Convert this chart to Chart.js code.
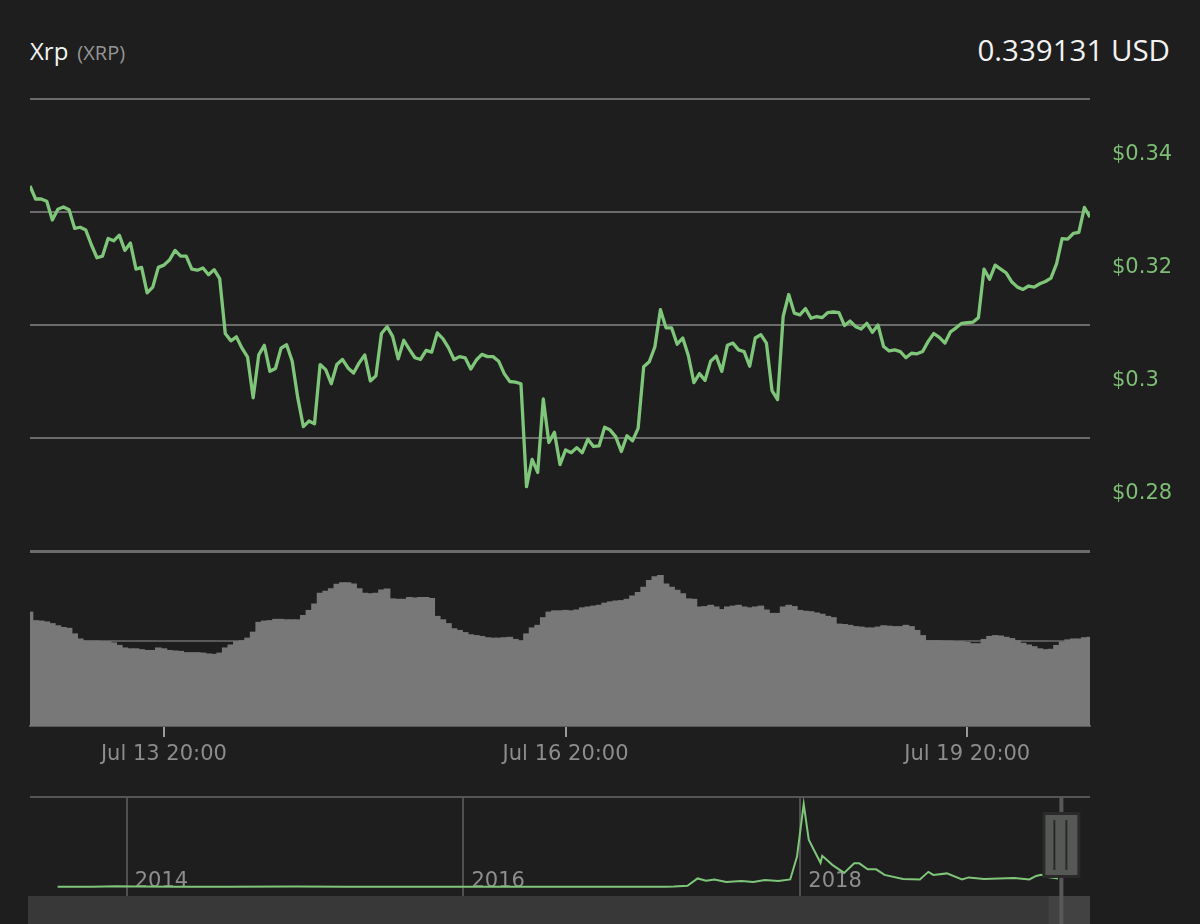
<!DOCTYPE html>
<html>
<head>
<meta charset="utf-8">
<title>Xrp (XRP)</title>
<script src="https://cdn.jsdelivr.net/npm/chart.js@4.4.1/dist/chart.umd.min.js"></script>
<style>
  html, body { margin: 0; padding: 0; }
  body { width: 1200px; height: 924px; background: #1e1e1e; position: relative; overflow: hidden; font-family: "Open Sans", sans-serif; }
  canvas { position: absolute; left: 0; }
  #title { position: absolute; left: 30px; top: 39px; line-height: 1; color: #f2f2f2; font-size: 24px; white-space: nowrap; }
  #title span { color: #959595; font-size: 20px; margin-left: 9px; }
  #last { position: absolute; right: 30px; top: 35px; line-height: 1; color: #f2f2f2; font-size: 29.5px; white-space: nowrap; }
</style>
</head>
<body>
<div id="title">Xrp<span>(XRP)</span></div>
<div id="last">0.339131 USD</div>
<canvas id="priceChart" width="1200" height="560" style="top:0"></canvas>
<canvas id="volumeChart" width="1200" height="240" style="top:540px"></canvas>
<canvas id="navChart" width="1200" height="144" style="top:780px"></canvas>
<script>
// hourly prices, hour 0 = Jul 12 20:00
const priceValues = [
	0.3446, 0.3423, 0.3423, 0.3419, 0.3386, 0.3405, 0.3409, 0.3404, 0.3371, 0.3373,
	0.3368, 0.3342, 0.3319, 0.3322, 0.3353, 0.3349, 0.3359, 0.3332, 0.3345, 0.3299,
	0.3302, 0.3257, 0.3267, 0.3302, 0.3306, 0.3315, 0.3332, 0.3322, 0.3322, 0.3299,
	0.3297, 0.3301, 0.3289, 0.3298, 0.3282, 0.3185, 0.3172, 0.3179, 0.3159, 0.3143,
	0.3071, 0.3147, 0.3164, 0.3118, 0.3123, 0.3159, 0.3165, 0.3136, 0.3071, 0.3020,
	0.3030, 0.3025, 0.3130, 0.3121, 0.3096, 0.3130, 0.3139, 0.3124, 0.3115, 0.3133,
	0.3147, 0.3101, 0.3110, 0.3185, 0.3197, 0.3180, 0.3140, 0.3173, 0.3157, 0.3142,
	0.3139, 0.3155, 0.3152, 0.3186, 0.3176, 0.3160, 0.3139, 0.3144, 0.3142, 0.3122,
	0.3138, 0.3148, 0.3144, 0.3144, 0.3136, 0.3114, 0.3100, 0.3099, 0.3096, 0.2914,
	0.2962, 0.2939, 0.3069, 0.2992, 0.3010, 0.2953, 0.2979, 0.2974, 0.2983, 0.2974,
	0.2998, 0.2985, 0.2986, 0.3019, 0.3014, 0.3002, 0.2976, 0.3004, 0.2995, 0.3017,
	0.3126, 0.3135, 0.3161, 0.3227, 0.3195, 0.3195, 0.3166, 0.3177, 0.3146, 0.3098,
	0.3114, 0.3102, 0.3136, 0.3145, 0.3118, 0.3164, 0.3168, 0.3156, 0.3153, 0.3127,
	0.3177, 0.3183, 0.3168, 0.3084, 0.3068, 0.3215, 0.3254, 0.3221, 0.3218, 0.3229,
	0.3212, 0.3215, 0.3213, 0.3222, 0.3223, 0.3222, 0.3199, 0.3207, 0.3197, 0.3193,
	0.3203, 0.3187, 0.3200, 0.3162, 0.3154, 0.3156, 0.3153, 0.3142, 0.3150, 0.3149,
	0.3153, 0.3171, 0.3185, 0.3178, 0.3168, 0.3188, 0.3195, 0.3203, 0.3204, 0.3205,
	0.3213, 0.3299, 0.3281, 0.3306, 0.3299, 0.3292, 0.3276, 0.3267, 0.3263, 0.3269,
	0.3267, 0.3273, 0.3277, 0.3283, 0.3308, 0.3353, 0.3352, 0.3362, 0.3364, 0.3408,
	0.3391
];

// hourly volume (millions XRP)
const volumeValues = [
	268, 248, 247, 245, 241, 236, 232, 230, 217, 205,
	200, 200, 200, 199, 199, 196, 190, 184, 182, 182,
	180, 178, 178, 184, 182, 178, 177, 176, 173, 173,
	173, 172, 170, 169, 172, 184, 191, 199, 201, 207,
	221, 244, 247, 248, 251, 251, 250, 250, 250, 260,
	272, 287, 312, 317, 323, 333, 337, 337, 334, 323,
	312, 311, 312, 320, 322, 299, 298, 298, 302, 301,
	302, 302, 300, 258, 250, 241, 229, 225, 220, 215,
	213, 211, 208, 207, 207, 208, 209, 204, 200, 217,
	231, 237, 255, 268, 271, 271, 272, 271, 273, 278,
	280, 282, 284, 289, 292, 294, 295, 298, 306, 314,
	326, 342, 351, 354, 334, 326, 319, 311, 299, 298,
	280, 281, 284, 280, 274, 280, 282, 284, 280, 278,
	280, 282, 273, 265, 265, 280, 284, 281, 272, 270,
	269, 266, 263, 258, 255, 240, 239, 237, 234, 233,
	231, 231, 233, 236, 235, 234, 234, 237, 234, 225,
	213, 201, 201, 201, 200, 200, 199, 199, 197, 194,
	194, 204, 211, 213, 212, 209, 206, 201, 195, 191,
	187, 182, 180, 181, 190, 198, 203, 205, 205, 208,
	209
];

const tickHours = [24, 96, 168];
const tickLabels = ["Jul 13 20:00", "Jul 16 20:00", "Jul 19 20:00"];

const priceTicks = [0.28, 0.3, 0.32, 0.34, 0.36];
const priceTickLabels = ["$0.28", "$0.3", "$0.32", "$0.34", ""];

// navigator: long-term history (decimal year, price USD)
const navDates = [
	2013.59, 2013.8, 2013.94, 2014.05, 2014.3, 2014.6, 2015.0, 2015.3, 2015.6, 2016.0,
	2016.5, 2017.0, 2017.2, 2017.25, 2017.33, 2017.39, 2017.44, 2017.49, 2017.56, 2017.65,
	2017.72, 2017.79, 2017.87, 2017.94, 2017.98, 2018.02, 2018.05, 2018.08, 2018.12, 2018.13,
	2018.19, 2018.26, 2018.32, 2018.35, 2018.4, 2018.45, 2018.5, 2018.61, 2018.71, 2018.76,
	2018.79, 2018.87, 2018.96, 2019.0, 2019.09, 2019.27, 2019.36, 2019.4, 2019.43, 2019.47,
	2019.53
];
const navPrices = [
	0.005, 0.012, 0.03, 0.018, 0.012, 0.008, 0.02, 0.012, 0.008, 0.006,
	0.007, 0.0065, 0.01, 0.015, 0.05, 0.34, 0.25, 0.3, 0.2, 0.24,
	0.2, 0.28, 0.24, 0.3, 1.2, 3.3, 1.88, 1.48, 0.96, 1.24,
	0.88, 0.56, 0.94, 0.94, 0.7, 0.7, 0.48, 0.32, 0.3, 0.6,
	0.48, 0.54, 0.3, 0.38, 0.32, 0.36, 0.3, 0.44, 0.48, 0.4,
	0.34
];
const navYears = [2014, 2016, 2018];
const navSelectionEnd = 2019.55;

const green = "#7fc67a";
Chart.defaults.font.family = '"DejaVu Sans", sans-serif';
Chart.defaults.plugins.legend.display = false;
Chart.defaults.plugins.tooltip.enabled = false;
Chart.defaults.animation = false;
Chart.defaults.responsive = false;

const hours = priceValues.map((v, i) => i);

// price chart
new Chart(document.getElementById("priceChart"), {
	type: "line",
	data: {
		datasets: [{
			data: priceValues.map((v, i) => ({ x: hours[i], y: v })),
			borderColor: green,
			borderWidth: 3.3,
			pointRadius: 0,
			tension: 0,
			borderJoinStyle: "round",
		}],
	},
	options: {
		devicePixelRatio: 1,
		layout: { padding: { left: 30, top: 99, bottom: 9, right: 0 } },
		scales: {
			x: { type: "linear", min: 0, max: 190, display: false },
			y: {
				position: "right",
				min: 0.28,
				max: 0.36,
				afterBuildTicks: (s) => { s.ticks = priceTicks.map((v) => ({ value: v })); },
				afterFit: (s) => { s.width = 110; s.paddingTop = 0; s.paddingBottom = 0; },
				grid: {
					color: "#6b6b6b",
					lineWidth: (c) => (c.tick && c.tick.value === 0.28 ? 3 : 2),
					drawTicks: false,
				},
				border: { display: false },
				ticks: {
					color: "#7dbd74",
					font: { size: 21 },
					padding: 22,
					labelOffset: -57,
					callback: (v, i) => priceTickLabels[i],
				},
			},
		},
	},
});

// volume chart
new Chart(document.getElementById("volumeChart"), {
	type: "bar",
	data: {
		labels: hours,
		datasets: [{
			data: volumeValues,
			backgroundColor: "#787878",
			borderWidth: 0,
			barPercentage: 1.2,
			categoryPercentage: 1,
		}],
	},
	options: {
		devicePixelRatio: 1,
		layout: { padding: { left: 30, top: 11, bottom: 0, right: 0 } },
		scales: {
			x: {
				type: "category",
				offset: false,
				afterBuildTicks: (s) => { s.ticks = tickHours.map((v) => ({ value: v })); },
				afterFit: (s) => { s.height = 54; s.paddingLeft = 0; s.paddingRight = 0; },
				grid: { offset: false, drawOnChartArea: false, drawTicks: true, tickLength: 11, color: "#9a9a9a", lineWidth: 2 },
				border: { display: true, color: "#5a5a5a", width: 2 },
				ticks: {
					color: "#8c8c8c",
					font: { size: 21 },
					padding: 5,
					maxRotation: 0,
					autoSkip: false,
					callback: (v, i) => tickLabels[i],
				},
			},
			y: {
				position: "right",
				min: 0,
				max: 410,
				afterBuildTicks: (s) => { s.ticks = [{ value: 200 }]; },
				afterFit: (s) => { s.width = 110; s.paddingTop = 0; s.paddingBottom = 0; },
				grid: { color: "#585858", lineWidth: 2, drawTicks: false },
				border: { display: false },
				ticks: { display: false },
			},
		},
	},
});

// navigator chrome: year labels, scrollbar, selected range handle
const navigatorChrome = {
	id: "navigatorChrome",
	beforeDatasetsDraw(chart) {
		const ctx = chart.ctx;
		const x = chart.scales.x;
		ctx.save();
		ctx.fillStyle = "#8e8e8e";
		ctx.font = '21px "DejaVu Sans"';
		ctx.textBaseline = "alphabetic";
		navYears.forEach((yr) => {
			ctx.fillText(String(yr), x.getPixelForValue(yr) + 8, chart.chartArea.bottom - 9);
		});
		ctx.restore();
	},
	afterDraw(chart) {
		const ctx = chart.ctx;
		const area = chart.chartArea;
		const xs = chart.scales.x.getPixelForValue(navSelectionEnd);
		ctx.save();
		// scrollbar band
		ctx.fillStyle = "#383838";
		ctx.fillRect(area.left - 2, area.bottom, area.right - area.left + 2, chart.height - area.bottom);
		ctx.fillStyle = "#424242";
		ctx.fillRect(xs - 13, area.bottom, area.right - xs + 13, chart.height - area.bottom);
		// selection line
		ctx.fillStyle = "#585858";
		ctx.fillRect(xs - 2, area.top, 4, chart.height - area.top);
		// handle
		ctx.fillStyle = "#2a2a2a";
		ctx.fillRect(xs - 19, area.top + 15, 38, 66);
		ctx.fillStyle = "#565856";
		ctx.fillRect(xs - 16, area.top + 18, 32, 60);
		ctx.fillStyle = "#2a2a2a";
		ctx.fillRect(xs - 8, area.top + 23, 2, 50);
		ctx.fillRect(xs + 4, area.top + 23, 2, 50);
		ctx.restore();
	},
};

new Chart(document.getElementById("navChart"), {
	type: "line",
	data: {
		datasets: [{
			data: navDates.map((d, i) => ({ x: d, y: navPrices[i] })),
			borderColor: green,
			borderWidth: 2,
			pointRadius: 0,
			tension: 0,
		}],
	},
	options: {
		devicePixelRatio: 1,
		layout: { padding: { left: 30, top: 17, bottom: 28, right: 0 } },
		scales: {
			x: {
				type: "linear",
				min: 2013.426,
				max: 2019.72,
				afterBuildTicks: (s) => { s.ticks = navYears.map((v) => ({ value: v })); },
				afterFit: (s) => { s.height = 0; },
				grid: { color: "#505050", lineWidth: 2, drawTicks: false },
				border: { display: false },
				ticks: { display: false },
			},
			y: {
				position: "right",
				min: -0.36,
				max: 3.58,
				afterBuildTicks: (s) => { s.ticks = [{ value: 3.58 }]; },
				afterFit: (s) => { s.width = 110; },
				grid: { color: "#555555", lineWidth: 2, drawTicks: false },
				border: { display: false },
				ticks: { display: false },
			},
		},
	},
	plugins: [navigatorChrome],
});
</script>
</body>
</html>
